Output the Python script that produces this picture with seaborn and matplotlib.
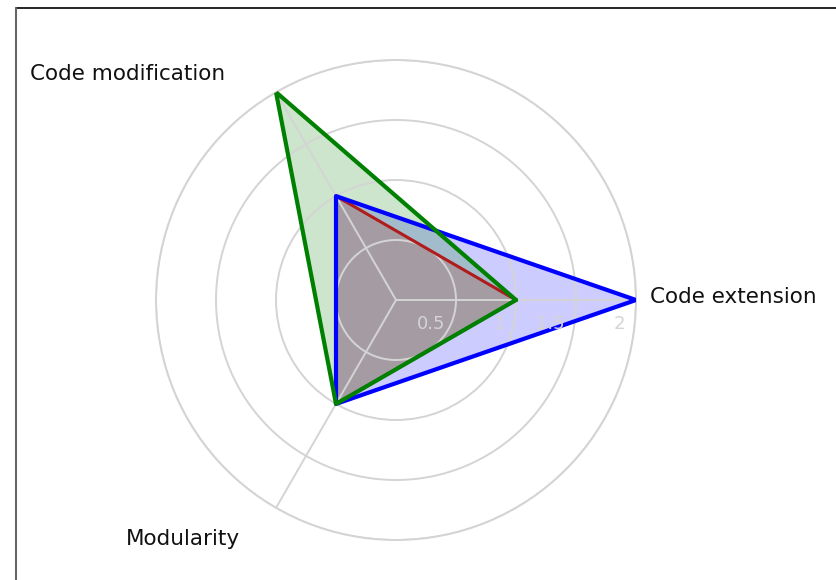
import numpy as np
import pandas as pd
import matplotlib
matplotlib.use("Agg")
import matplotlib.pyplot as plt
import matplotlib.transforms as mtransforms
from matplotlib.lines import Line2D
import seaborn as sns

# data
categories = ["Code extension", "Code modification", "Modularity"]
series_names = ["blue", "red", "green"]
blue_values = [2, 1, 1]
red_values = [1, 1, 1]
green_values = [1, 2, 1]
ring_ticks = [0.5, 1, 1.5, 2]
ring_labels = ["0.5", "1", "1.5", "2"]

line_colors = {"red": "#b01c1c", "blue": "#0000ff", "green": "#008000"}
fill_colors = {"red": "#dd0000", "blue": "#0000ff", "green": "#008000"}
line_widths = {"red": 2.2, "blue": 3.0, "green": 3.0}
line_order = ["red", "blue", "green"]

sns.set_style("white")
plt.rcParams["font.family"] = ["DejaVu Sans"]

angles = np.arange(len(categories)) * 2 * np.pi / len(categories)

rows = []
for name, vals in zip(series_names, [blue_values, red_values, green_values]):
    for i, (a, v) in enumerate(zip(list(angles) + [angles[0]], vals + [vals[0]])):
        rows.append({"series": name, "order": i, "theta": a, "r": v})
df = pd.DataFrame(rows)

fig = plt.figure(figsize=(8.36, 5.8), dpi=100)
ax = fig.add_axes([156 / 836, 40 / 580, 480 / 836, 480 / 580], projection="polar")

for k, name in enumerate(series_names):
    d = df[df["series"] == name]
    ax.fill(d["theta"], d["r"], color=fill_colors[name], alpha=0.2, linewidth=0,
            zorder=2 + k * 0.01)

for k, name in enumerate(line_order):
    d = df[df["series"] == name]
    sns.lineplot(data=d, x="theta", y="r", sort=False, estimator=None, ax=ax,
                 color=line_colors[name], linewidth=line_widths[name],
                 zorder=3 + k * 0.01, legend=False)

ax.set_ylim(0, 2)
ax.set_yticks(ring_ticks)
ax.set_yticklabels([])
ax.set_xticks(angles)
ax.set_xticklabels([])
ax.grid(True, color="#d4d4d4", linewidth=1.4)
ax.spines["polar"].set_color("#d4d4d4")
ax.spines["polar"].set_linewidth(1.4)
ax.set_xlabel("")
ax.set_ylabel("")
ax.set_axisbelow(False)

# radial tick labels, just below the first spoke
off = mtransforms.offset_copy(ax.transData, fig=fig, x=-11, y=-24, units="dots")
for t, lab in zip(ring_ticks, ring_labels):
    ax.text(0, t, lab, transform=off, ha="right", va="center", fontsize=13,
            color="#d4d4d4", zorder=4)

# category labels
label_pos = [(np.deg2rad(0.7), 2.12, "left"), (np.deg2rad(127.2), 2.36, "right"),
             (np.deg2rad(236.9), 2.38, "right")]
for (a, r, ha), lab in zip(label_pos, categories):
    ax.text(a, r, lab, ha=ha, va="center", fontsize=15.5, color="#111111",
            clip_on=False)

# frame edges visible in the reference (top and left only)
fig.add_artist(Line2D([16 / 836, 1], [1 - 8 / 580, 1 - 8 / 580], transform=fig.transFigure,
                      color="black", linewidth=1.2))
fig.add_artist(Line2D([16 / 836, 16 / 836], [0, 1 - 8 / 580], transform=fig.transFigure,
                      color="#666666", linewidth=1.5))

fig.savefig("out.png", dpi=100)
